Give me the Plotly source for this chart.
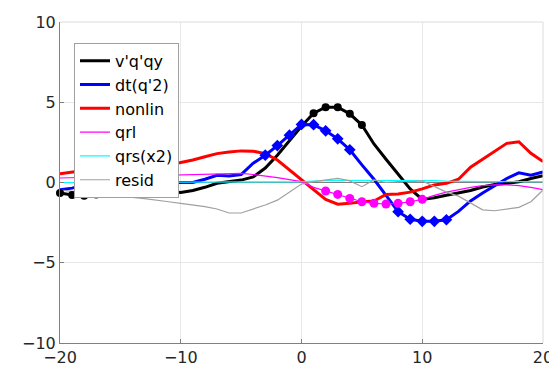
import plotly.graph_objects as go

x = list(range(-20, 21))

vqqy = [-0.65, -0.78, -0.82, -0.75, -0.6, -0.47, -0.38, -0.4, -0.47, -0.55,
        -0.62, -0.5, -0.3, -0.05, 0.05, 0.15, 0.35, 0.9, 1.7, 2.6,
        3.5, 4.32, 4.69, 4.69, 4.28, 3.58, 2.4, 1.45, 0.5, -0.4,
        -1.05, -0.95, -0.8, -0.65, -0.5, -0.28, -0.12, -0.05, 0.05, 0.25, 0.42]
dtq2 = [-0.45, -0.35, -0.15, -0.05, 0.0, 0.0, -0.05, -0.05, -0.05, -0.03,
        0.0, 0.0, 0.2, 0.45, 0.4, 0.5, 1.2, 1.7, 2.3, 2.95,
        3.62, 3.6, 3.22, 2.72, 2.04, 1.1, 0.2, -0.8, -1.82, -2.29,
        -2.42, -2.42, -2.32, -1.8, -1.15, -0.65, -0.2, 0.25, 0.6, 0.45, 0.65]
nonlin = [0.55, 0.65, 0.75, 0.85, 0.9, 0.95, 0.97, 1.0, 1.03, 1.1,
          1.25, 1.4, 1.6, 1.8, 1.9, 1.97, 1.95, 1.8, 1.4, 0.8,
          0.15, -0.45, -1.05, -1.35, -1.3, -1.2, -1.15, -0.75, -0.72, -0.6,
          -0.4, -0.15, -0.05, 0.2, 0.95, 1.45, 1.95, 2.44, 2.54, 1.82, 1.3]
qrl = [0.28, 0.3, 0.32, 0.35, 0.37, 0.38, 0.4, 0.42, 0.44, 0.47,
       0.5, 0.52, 0.55, 0.57, 0.58, 0.57, 0.5, 0.42, 0.3, 0.18,
       0.05, -0.3, -0.53, -0.74, -0.99, -1.2, -1.3, -1.34, -1.3, -1.2,
       -1.05, -0.8, -0.6, -0.45, -0.3, -0.2, -0.15, -0.15, -0.2, -0.3, -0.45]
qrs = [0.0, 0.0, 0.0, 0.0, 0.0, 0.0, 0.0, 0.0, 0.0, 0.0,
       0.0, 0.0, 0.0, 0.0, 0.0, 0.0, 0.0, 0.02, 0.03, 0.04,
       0.05, 0.1, 0.12, 0.14, 0.14, 0.15, 0.15, 0.15, 0.15, 0.16,
       0.16, 0.12, 0.08, 0.06, 0.05, 0.05, 0.05, 0.05, 0.05, 0.05, 0.05]
resid = [-0.47, -0.55, -0.65, -0.72, -0.8, -0.87, -0.93, -1.0, -1.08, -1.2,
         -1.3, -1.4, -1.5, -1.65, -1.9, -1.9, -1.67, -1.4, -1.1, -0.6,
         -0.1, 0.05, 0.15, 0.26, 0.1, -0.26, 0.16, 0.0, 0.05, 0.05,
         0.1, -0.25, -0.6, -0.85, -1.25, -1.7, -1.76, -1.65, -1.55, -1.2, -0.47]

black_mk = [-20, -19, -18, -17, 1, 2, 3, 4, 5]
blue_mk = [-3, -2, -1, 0, 1, 2, 3, 4, 8, 9, 10, 11, 12]
mag_mk = [2, 3, 4, 5, 6, 7, 8, 9, 10]

xticks = [-20, -10, 0, 10, 20]
yticks = [-10, -5, 0, 5, 10]

def sub(vals, keys):
    return [vals[x.index(k)] for k in keys]

def lab(v):
    return ("\u2212" if v < 0 else "") + str(abs(v))

fig = go.Figure()
series = [
    ("v'q'qy", vqqy, "#000000", 3),
    ("dt(q'2)", dtq2, "#0000ff", 3),
    ("nonlin", nonlin, "#ff0000", 3),
    ("qrl", qrl, "#ff00ff", 1.2),
    ("qrs(x2)", qrs, "#00ffff", 1.2),
    ("resid", resid, "#a0a0a0", 1.2),
]
for name, vals, col, w in series:
    fig.add_trace(go.Scatter(x=x, y=vals, mode="lines", name=name,
                             line=dict(color=col, width=w), cliponaxis=False))

fig.add_trace(go.Scatter(x=black_mk, y=sub(vqqy, black_mk), mode="markers", cliponaxis=False,
                         showlegend=False, marker=dict(color="#000000", size=8, symbol="circle")))
fig.add_trace(go.Scatter(x=blue_mk, y=sub(dtq2, blue_mk), mode="markers",
                         showlegend=False, marker=dict(color="#0000ff", size=9, symbol="diamond")))
fig.add_trace(go.Scatter(x=mag_mk, y=sub(qrl, mag_mk), mode="markers",
                         showlegend=False, marker=dict(color="#ff00ff", size=9, symbol="circle")))

# light frame on top/right
fig.add_shape(type="line", xref="paper", yref="paper", x0=0, x1=1, y0=1, y1=1,
              line=dict(color="#dcdcdc", width=1))
fig.add_shape(type="line", xref="paper", yref="paper", x0=1, x1=1, y0=0, y1=1,
              line=dict(color="#dcdcdc", width=1))

fig.update_layout(
    width=557, height=367,
    margin=dict(l=52, r=22, t=14, b=32),
    paper_bgcolor="white", plot_bgcolor="white",
    font=dict(family="DejaVu Sans", color="#262626"),
    showlegend=True,
    legend=dict(x=0.029, y=0.935, xanchor="left", yanchor="top",
                bgcolor="white", bordercolor="#a0a0a0", borderwidth=1,
                font=dict(size=16, color="#000000"), itemwidth=30,
                tracegroupgap=0),
    xaxis=dict(range=[-20, 20], tickvals=xticks, ticktext=[lab(v) for v in xticks],
               showgrid=True, gridcolor="#e8e8e8", gridwidth=1, automargin=False,
               showline=True, linecolor="#808080", linewidth=1,
               ticks="inside", ticklen=4, tickcolor="#808080",
               zeroline=False, tickfont=dict(size=16, color="#262626")),
    yaxis=dict(range=[-10, 10], tickvals=yticks, ticktext=[lab(v) for v in yticks],
               showgrid=True, gridcolor="#e8e8e8", gridwidth=1, automargin=False,
               showline=True, linecolor="#808080", linewidth=1,
               ticks="inside", ticklen=4, tickcolor="#808080",
               zeroline=True, zerolinecolor="#808080", zerolinewidth=1,
               tickfont=dict(size=16, color="#262626")),
)

fig.write_html("out.html")
